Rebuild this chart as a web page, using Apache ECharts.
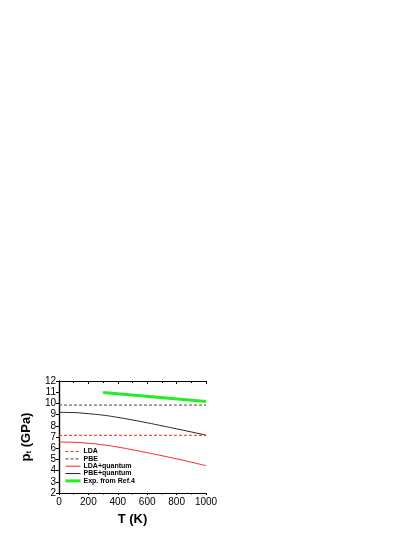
<!DOCTYPE html>
<html>
<head>
    <meta charset="utf-8">
    <title>pt vs T</title>
    <script src="https://cdn.jsdelivr.net/npm/echarts@6/dist/echarts.min.js"></script>
    <style>
        html, body { margin: 0; padding: 0; background: #fff; }
        #chart1 { width: 415px; height: 537px; }
    </style>
</head>
<body>
<div id="chart1"></div>
<script type="text/javascript">
    // temperatures (K)
    var temps = [0, 100, 200, 300, 400, 500, 600, 700, 800, 900, 1000];
    var ldaStatic = [7.15, 7.15, 7.15, 7.15, 7.15, 7.15, 7.15, 7.15, 7.15, 7.15, 7.15];
    var pbeStatic = [9.85, 9.85, 9.85, 9.85, 9.85, 9.85, 9.85, 9.85, 9.85, 9.85, 9.85];
    var ldaQuantum = [6.55, 6.53, 6.44, 6.3, 6.1, 5.86, 5.6, 5.33, 5.05, 4.75, 4.44];
    var pbeQuantum = [9.2, 9.18, 9.08, 8.95, 8.75, 8.52, 8.27, 8.0, 7.73, 7.45, 7.17];
    var expTemps = [300, 1000];
    var expValues = [10.97, 10.17];
    var legendNames = ['LDA', 'PBE', 'LDA+quantum', 'PBE+quantum', 'Exp. from Ref.4'];
    var legendWidths = [1, 1, 1, 1, 3];

    function pairs(xs, ys) {
        var out = [];
        for (var i = 0; i < xs.length; i++) out.push([xs[i], ys[i]]);
        return out;
    }

    var font = 'Liberation Sans, Arial, sans-serif';
    var frameAxis = function (extra) {
        var base = {
            type: 'value',
            axisLine: { lineStyle: { color: '#000', width: 1.2 } },
            axisTick: { inside: true, length: 3, lineStyle: { color: '#000' } },
            minorTick: { show: true, splitNumber: 2, length: 2, lineStyle: { color: '#000' } },
            axisLabel: { show: false },
            splitLine: { show: false }
        };
        for (var k in extra) base[k] = extra[k];
        return base;
    };

    var myChart1 = echarts.init(document.getElementById('chart1'));
    myChart1.setOption({
        backgroundColor: '#fff',
        animation: false,
        grid: { left: 59, top: 381, width: 147, height: 112, show: false },
        legend: {
            data: legendNames.map(function (n, i) {
                return { name: n, lineStyle: { width: legendWidths[i] } };
            }),
            orient: 'vertical',
            left: 64,
            top: 448,
            padding: 0,
            itemWidth: 15,
            itemHeight: 5,
            itemGap: 0.35,
            itemStyle: { opacity: 0 },
            textStyle: { fontFamily: font, fontSize: 7, fontWeight: 'bold', color: '#000', lineHeight: 5, padding: [0, 0, 0, -2] }
        },
        xAxis: [frameAxis({
            min: 0, max: 1000, interval: 200,
            name: 'T (K)', nameLocation: 'middle', nameGap: 20,
            nameTextStyle: { fontFamily: font, fontSize: 13, fontWeight: 'bold', color: '#000' },
            axisTick: { inside: false, length: 2, lineStyle: { color: '#000' } },
            minorTick: { show: true, splitNumber: 2, length: 1.5, lineStyle: { color: '#000' } },
            axisLabel: {
                fontFamily: font, fontSize: 10, color: '#000', margin: 4,
                formatter: function (v) { return String(v); }
            }
        }), frameAxis({
            min: 0, max: 1000, interval: 200, position: 'top'
        })],
        yAxis: [frameAxis({
            min: 2, max: 12, interval: 1,
            name: '{b|p}{s|t}{b| (GPa)}', nameLocation: 'middle', nameGap: 26, nameRotate: 90,
            nameTextStyle: {
                rich: {
                    b: { fontFamily: font, fontSize: 13, fontWeight: 'bold', color: '#000' },
                    s: { fontFamily: font, fontSize: 8, fontWeight: 'bold', color: '#000', verticalAlign: 'bottom', padding: [6, 0, 0, 0] }
                }
            },
            axisTick: { inside: false, length: 2, lineStyle: { color: '#000' } },
            minorTick: { show: false },
            axisLabel: { fontFamily: font, fontSize: 10, color: '#000', margin: 3 }
        }), frameAxis({
            min: 2, max: 12, interval: 1, position: 'right',
            minorTick: { show: false }
        })],
        series: [{
            name: 'LDA', type: 'line', symbol: 'none', data: pairs(temps, ldaStatic),
            lineStyle: { color: '#ff2020', width: 1, type: [3, 2] }, itemStyle: { color: '#ff2020' }
        }, {
            name: 'PBE', type: 'line', symbol: 'none', data: pairs(temps, pbeStatic),
            lineStyle: { color: '#444', width: 1, type: [3, 2] }, itemStyle: { color: '#444' }
        }, {
            name: 'LDA+quantum', type: 'line', symbol: 'none', smooth: true, data: pairs(temps, ldaQuantum),
            lineStyle: { color: '#ff2020', width: 1 }, itemStyle: { color: '#ff2020' }
        }, {
            name: 'PBE+quantum', type: 'line', symbol: 'none', smooth: true, data: pairs(temps, pbeQuantum),
            lineStyle: { color: '#222', width: 1 }, itemStyle: { color: '#222' }
        }, {
            name: 'Exp. from Ref.4', type: 'line', symbol: 'none', data: pairs(expTemps, expValues),
            lineStyle: { color: '#22ee22', width: 3 }, itemStyle: { color: '#22ee22' }
        }]
    });
</script>
</body>
</html>
